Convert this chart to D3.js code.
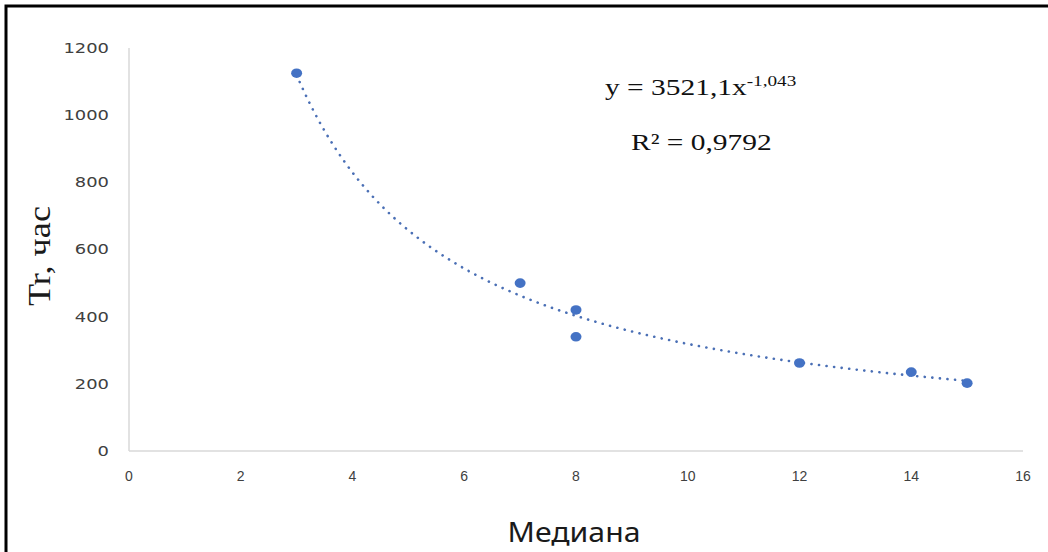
<!DOCTYPE html>
<html><head><meta charset="utf-8">
<script src="https://cdn.jsdelivr.net/npm/d3@7"></script>
<style>body{margin:0;background:#fff}svg{display:block}</style>
</head><body><svg id="c" width="1048" height="552"></svg>
<script>
const medianValues = [3, 7, 8, 8, 12, 14, 15];
const trValues = [1125, 500, 420, 340, 262, 235, 202];
const xTicks = [0, 2, 4, 6, 8, 10, 12, 14, 16];
const yTicks = [0, 200, 400, 600, 800, 1000, 1200];
const trendCoef = 3521.1;
const trendExp = -1.043;
const xTitle = "Медиана";
const yTitle = "Tr, час";

const svg = d3.select("#c");
svg.append("rect").attr("width",1048).attr("height",552).attr("fill","#fff");
svg.append("path").attr("d","M6,553 V6 H1048").attr("fill","none").attr("stroke","#000").attr("stroke-width",3);

const x = d3.scaleLinear().domain([0,16]).range([129,1023]);
const y = d3.scaleLinear().domain([0,1200]).range([451,48]);

svg.append("line").attr("x1",x(0)).attr("x2",x(16)).attr("y1",y(0)).attr("y2",y(0)).attr("stroke","#d9d9d9").attr("stroke-width",1.5);
svg.append("line").attr("x1",x(0)).attr("x2",x(0)).attr("y1",y(0)).attr("y2",y(1200)).attr("stroke","#d9d9d9").attr("stroke-width",1.5);

svg.selectAll("text.yt").data(yTicks).join("text").attr("class","yt")
  .attr("transform",d=>`translate(109,${y(d)}) scale(1.28,1)`).attr("dy","0.35em").attr("text-anchor","end")
  .attr("font-family","DejaVu Sans").attr("font-size",14).attr("fill","#404040").text(d=>d);
svg.selectAll("text.xt").data(xTicks).join("text").attr("class","xt")
  .attr("x",d=>x(d)).attr("y",481).attr("text-anchor","middle")
  .attr("font-family","Liberation Sans").attr("font-size",14).attr("fill","#404040").text(d=>d);

const tx = d3.range(3, 15.001, 0.05);
const line = d3.line().x(d=>x(d)).y(d=>y(trendCoef*Math.pow(d,trendExp)));
svg.append("path").datum(tx).attr("d",line).attr("fill","none")
  .attr("stroke","#4a6fb5").attr("stroke-width",2.6).attr("stroke-linecap","round")
  .attr("stroke-dasharray","0.1 7.5");

svg.selectAll("ellipse.pt").data(medianValues.map((m,i)=>[m,trValues[i]])).join("ellipse").attr("class","pt")
  .attr("cx",d=>x(d[0])).attr("cy",d=>y(d[1])).attr("rx",5.5).attr("ry",4.8).attr("fill","#4472c4");

const eq = svg.append("text").attr("transform","translate(605,95) scale(1.28,1)").attr("font-family","Liberation Serif").attr("font-size",23).attr("fill","#111");
eq.append("tspan").text("y = 3521,1x");
eq.append("tspan").attr("font-size",15).attr("dy",-9).text("-1,043");
svg.append("text").attr("transform","translate(631,150) scale(1.28,1)").attr("font-family","Liberation Serif").attr("font-size",23).attr("fill","#111").text("R² = 0,9792");

svg.append("text").attr("transform","translate(574,542) scale(1.12,1)").attr("text-anchor","middle")
  .attr("font-family","Noto Sans").attr("font-size",27).attr("fill","#1a1a1a").text(xTitle);
svg.append("text").attr("transform","translate(50,256) rotate(-90) scale(1.17,1)").attr("text-anchor","middle")
  .attr("font-family","Liberation Serif").attr("font-size",31).attr("fill","#1a1a1a").text(yTitle);
</script></body></html>
